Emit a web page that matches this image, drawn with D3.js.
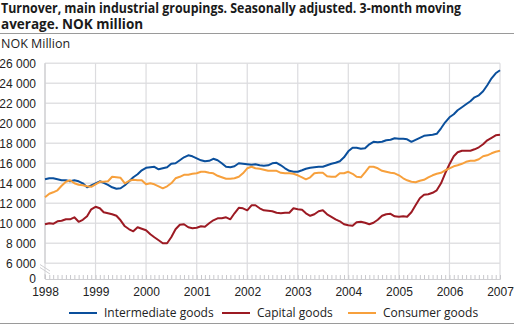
<!DOCTYPE html>
<html>
<head>
<meta charset="utf-8">
<script src="https://cdn.jsdelivr.net/npm/d3@7"></script>
<style>
  body { margin: 0; background: #fff; }
  svg { font-family: "Open Sans", "Noto Sans", sans-serif; }
  .tick text { font-size: 12px; fill: #222; }
</style>
</head>
<body>
<svg id="chart"></svg>
<script>
// monthly values, Jan 1998 - Jan 2007 (NOK million)
var intermediate = [
  14400, 14500, 14500, 14400, 14300, 14300, 14200, 14300, 14200, 14000, 13600, 13800,
  14000, 14200, 14050, 13850, 13600, 13450, 13500, 13800, 14200, 14600, 14900, 15300,
  15550, 15600, 15650, 15400, 15500, 15600, 15950, 16000, 16300, 16600, 16800, 16700,
  16500, 16300, 16200, 16250, 16450, 16300, 16000, 15650, 15600, 15700, 16000, 15950,
  15900, 15850, 15900, 15800, 15750, 15800, 16000, 16050, 15800, 15500, 15250, 15150,
  15150, 15300, 15450, 15550, 15600, 15650, 15650, 15800, 15950, 16050, 16200, 16600,
  17200, 17550, 17550, 17450, 17500, 17900, 18150, 18100, 18150, 18300, 18350, 18500,
  18450, 18450, 18400, 18150, 18350, 18550, 18750, 18800, 18850, 18950, 19500, 20100,
  20600, 20900, 21300, 21600, 21900, 22200, 22600, 22800, 23200, 23800, 24500, 25000,
  25300
];
var capital = [
  9900, 10000, 9950, 10200, 10250, 10400, 10400, 10600, 10150, 10350, 10700, 11400,
  11650, 11500, 11100, 11000, 10900, 10750, 10300, 9700, 9400, 9200, 9600, 9450,
  9300, 8900, 8600, 8300, 8000, 8000, 8600, 9400, 9850, 9900, 9600, 9500,
  9550, 9700, 9650, 10000, 10300, 10500, 10500, 10600, 10400, 11000, 11550, 11500,
  11300, 11800, 11800, 11500, 11300, 11250, 11200, 11050, 11000, 11050, 11050, 11500,
  11400, 11350, 11000, 10750, 10900, 11200, 11300, 10900, 10650, 10400, 10200, 9900,
  9800, 9750, 10100, 10150, 10050, 9900, 10050, 10350, 10750, 10900, 10950, 10700,
  10650, 10700, 10650, 11100, 11800, 12500, 12850, 12900, 13050, 13300, 14000, 15000,
  15900, 16700, 17100, 17250, 17250, 17250, 17400, 17600, 17900, 18300, 18550, 18800,
  18850
];
var consumer = [
  12600, 12950, 13100, 13300, 13750, 14150, 14300, 14000, 13850, 13800, 13700, 13650,
  13900, 14150, 14150, 14200, 14650, 14600, 14550, 14000, 14250, 14350, 14300, 14300,
  13900, 14000, 13900, 13700, 13500, 13700, 14000, 14500, 14650, 14850, 14850, 14950,
  15000, 15150, 15150, 15050, 15000, 14750, 14600, 14450, 14450, 14500, 14650, 15000,
  15500, 15650, 15500, 15450, 15350, 15250, 15250, 15250, 15050, 15000, 15000, 14950,
  14800, 14600, 14400, 14600, 15000, 15050, 15050, 14700, 14650, 14650, 15000, 15000,
  15150, 14950, 14650, 14600, 15100, 15650, 15650, 15500, 15250, 15150, 15050, 15000,
  14800, 14500, 14300, 14150, 14100, 14250, 14350, 14600, 14800, 14950, 15050, 15300,
  15500, 15700, 15800, 15950, 16150, 16250, 16250, 16400, 16700, 16800, 17000, 17150,
  17250
];
var seriesNames = ["Intermediate goods", "Capital goods", "Consumer goods"];
var seriesColors = ["#0a4f9c", "#9c1a23", "#f7a03c"];
var yTicks = [0, 6000, 8000, 10000, 12000, 14000, 16000, 18000, 20000, 22000, 24000, 26000];
var years = d3.range(1998, 2008);
var titleLines = ["Turnover, main industrial groupings. Seasonally adjusted. 3-month moving",
                  "average. NOK million"];

var width = 514, height = 326;
var svg = d3.select("#chart").attr("width", width).attr("height", height);

var months = intermediate.map(function(d, i) { return new Date(1998, i, 1); });

var x = d3.scaleTime()
    .domain([new Date(1998, 0, 1), new Date(2007, 0, 1)])
    .range([45, 500]);
// broken axis: 0 sits just below 6000
var y = d3.scaleLinear()
    .domain([0, 6000, 26000])
    .range([279, 263.3, 63.3]);

var fmt = d3.formatLocale({decimal: ",", thousands: " ", grouping: [3], currency: ["", ""]}).format(",");

// title
var title = svg.append("g").attr("font-weight", "bold").attr("font-size", "13.5px").attr("fill", "#1a1a1a");
title.selectAll("text")
    .data(titleLines)
    .enter().append("text")
    .attr("x", 1)
    .attr("y", function(d, i) { return 12.5 + i * 16.5; })
    .text(function(d) { return d; })
    .each(function() {
      // squeeze the long line to the width it has in the original
      if (this.getComputedTextLength() > 460) {
        d3.select(this).attr("textLength", 460).attr("lengthAdjust", "spacingAndGlyphs");
      }
    });
svg.append("line").attr("x1", 0).attr("x2", 514).attr("y1", 33.5).attr("y2", 33.5)
    .attr("stroke", "#9a9a9a").attr("stroke-width", 1);
svg.append("text").attr("x", 1).attr("y", 48).attr("font-size", "12.5px").attr("fill", "#222").text("NOK Million");

// horizontal grid + labels
var yAxis = svg.append("g")
    .attr("transform", "translate(45,0)")
    .call(d3.axisLeft(y).tickValues(yTicks).tickSize(0).tickPadding(9).tickFormat(fmt));
yAxis.select(".domain").remove();
svg.append("g").selectAll("line")
    .data(yTicks.filter(function(d) { return d > 0; }))
    .enter().append("line")
    .attr("x1", 45).attr("x2", 500)
    .attr("y1", function(d) { return y(d); })
    .attr("y2", function(d) { return y(d); })
    .attr("stroke", "#e1e1e3").attr("stroke-width", 1.5);

// vertical grid
svg.append("g").selectAll("line")
    .data(years)
    .enter().append("line")
    .attr("x1", function(d) { return x(new Date(d, 0, 1)); })
    .attr("x2", function(d) { return x(new Date(d, 0, 1)); })
    .attr("y1", y(26000)).attr("y2", y(0))
    .attr("stroke", "#dcdcdf").attr("stroke-width", 1.2);

// left axis with break
svg.append("line").attr("x1", 45).attr("x2", 45).attr("y1", y(26000)).attr("y2", y(6000))
    .attr("stroke", "#cfcfd2").attr("stroke-width", 1.2);
svg.append("line").attr("x1", 45).attr("x2", 45).attr("y1", 274).attr("y2", y(0))
    .attr("stroke", "#cfcfd2").attr("stroke-width", 1.2);
svg.append("line").attr("x1", 40).attr("x2", 50).attr("y1", 264.5).attr("y2", 271)
    .attr("stroke", "#cfcfd2").attr("stroke-width", 1);
svg.append("line").attr("x1", 40).attr("x2", 50).attr("y1", 267.5).attr("y2", 274)
    .attr("stroke", "#cfcfd2").attr("stroke-width", 1);

// bottom axis: monthly minor ticks, year labels
var xAxis = svg.append("g")
    .attr("transform", "translate(0," + y(0) + ")")
    .call(d3.axisBottom(x).ticks(d3.timeMonth.every(1)).tickSize(-4).tickFormat(""));
xAxis.select(".domain").attr("stroke", "#cfcfd2");
xAxis.selectAll(".tick line").attr("stroke", "#c8c8cc");
svg.append("g")
    .attr("transform", "translate(0," + y(0) + ")")
    .call(d3.axisBottom(x).tickValues(years.map(function(d) { return new Date(d, 0, 1); }))
        .tickSize(0).tickPadding(8).tickFormat(d3.timeFormat("%Y")))
    .select(".domain").remove();

// lines
var line = d3.line()
    .x(function(d, i) { return x(months[i]); })
    .y(function(d) { return y(d); });
[intermediate, capital, consumer].forEach(function(s, k) {
  svg.append("path")
      .datum(s)
      .attr("fill", "none")
      .attr("stroke", seriesColors[k])
      .attr("stroke-width", 2)
      .attr("stroke-linejoin", "round")
      .attr("d", line);
});

// legend
var legendX = [69, 222, 348];
var legend = svg.append("g").attr("font-size", "12px").attr("fill", "#222");
seriesNames.forEach(function(n, k) {
  legend.append("line")
      .attr("x1", legendX[k]).attr("x2", legendX[k] + 28)
      .attr("y1", 313).attr("y2", 313)
      .attr("stroke", seriesColors[k]).attr("stroke-width", 2);
  legend.append("text")
      .attr("x", legendX[k] + 35).attr("y", 317)
      .text(n);
});
svg.append("line").attr("x1", 0).attr("x2", 514).attr("y1", 323.5).attr("y2", 323.5)
    .attr("stroke", "#9a9a9a").attr("stroke-width", 1);
</script>
</body>
</html>
